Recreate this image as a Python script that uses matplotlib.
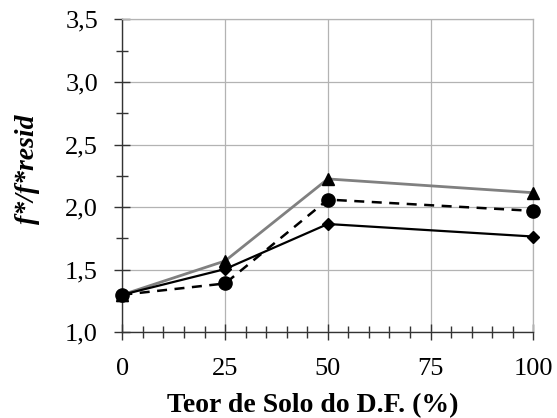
import matplotlib
matplotlib.use("Agg")
import matplotlib.pyplot as plt
from matplotlib.ticker import MultipleLocator, FuncFormatter

# Soil content of the D.F. (%) and normalised friction ratios
teor = [0, 25, 50, 100]
serie_triangulo = [1.30, 1.57, 2.225, 2.115]
serie_circulo = [1.30, 1.39, 2.06, 1.97]
serie_losango = [1.30, 1.505, 1.865, 1.765]

x_ticks = [0, 25, 50, 75, 100]
y_ticks = [1.0, 1.5, 2.0, 2.5, 3.0, 3.5]

plt.rcParams["font.family"] = ["Liberation Serif", "DejaVu Serif"]

fig = plt.figure(figsize=(5.57, 4.18), dpi=100)
ax = fig.add_axes([0.2196, 0.205, 0.7379, 0.7488])

ax.plot(teor, serie_triangulo, color="#808080", lw=2.0, marker="^",
        markersize=9, markerfacecolor="black", markeredgecolor="black",
        zorder=3, clip_on=False)
ax.plot(teor, serie_circulo, color="black", lw=1.8, ls=(0, (4, 3)), marker="o",
        markersize=9.5, markerfacecolor="black", markeredgecolor="black",
        zorder=4, clip_on=False)
ax.plot(teor, serie_losango, color="black", lw=1.6, marker="D",
        markersize=6, markerfacecolor="black", markeredgecolor="black",
        zorder=5, clip_on=False)

ax.set_xlim(0, 100)
ax.set_ylim(1.0, 3.5)
ax.set_xticks(x_ticks)
ax.set_yticks(y_ticks)
ax.xaxis.set_minor_locator(MultipleLocator(5))
ax.yaxis.set_minor_locator(MultipleLocator(0.25))
ax.yaxis.set_major_formatter(FuncFormatter(lambda v, p: f"{v:.1f}".replace(".", ",")))

ax.grid(True, which="major", color="#b3b3b3", lw=0.9)
ax.set_axisbelow(True)

for s in ("top", "right"):
    ax.spines[s].set_color("#b3b3b3")
    ax.spines[s].set_linewidth(0.9)
for s in ("left", "bottom"):
    ax.spines[s].set_color("#333333")
    ax.spines[s].set_linewidth(1.0)

ax.tick_params(which="major", direction="inout", length=11, width=1.0, color="#333333", labelsize=19)
ax.tick_params(which="minor", direction="inout", length=8, width=1.0, color="#333333")
ax.tick_params(axis="y", which="major", pad=12)
ax.tick_params(axis="x", which="major", pad=13)

ax.set_xlabel("Teor de Solo do D.F. (%)", fontsize=20, fontweight="bold")
ax.set_ylabel("f*/f*resid", fontsize=20, fontweight="bold", style="italic")
ax.xaxis.set_label_coords(0.464, -0.195)
ax.yaxis.set_label_coords(-0.2, 0.52)

fig.savefig("out.png", dpi=100)
